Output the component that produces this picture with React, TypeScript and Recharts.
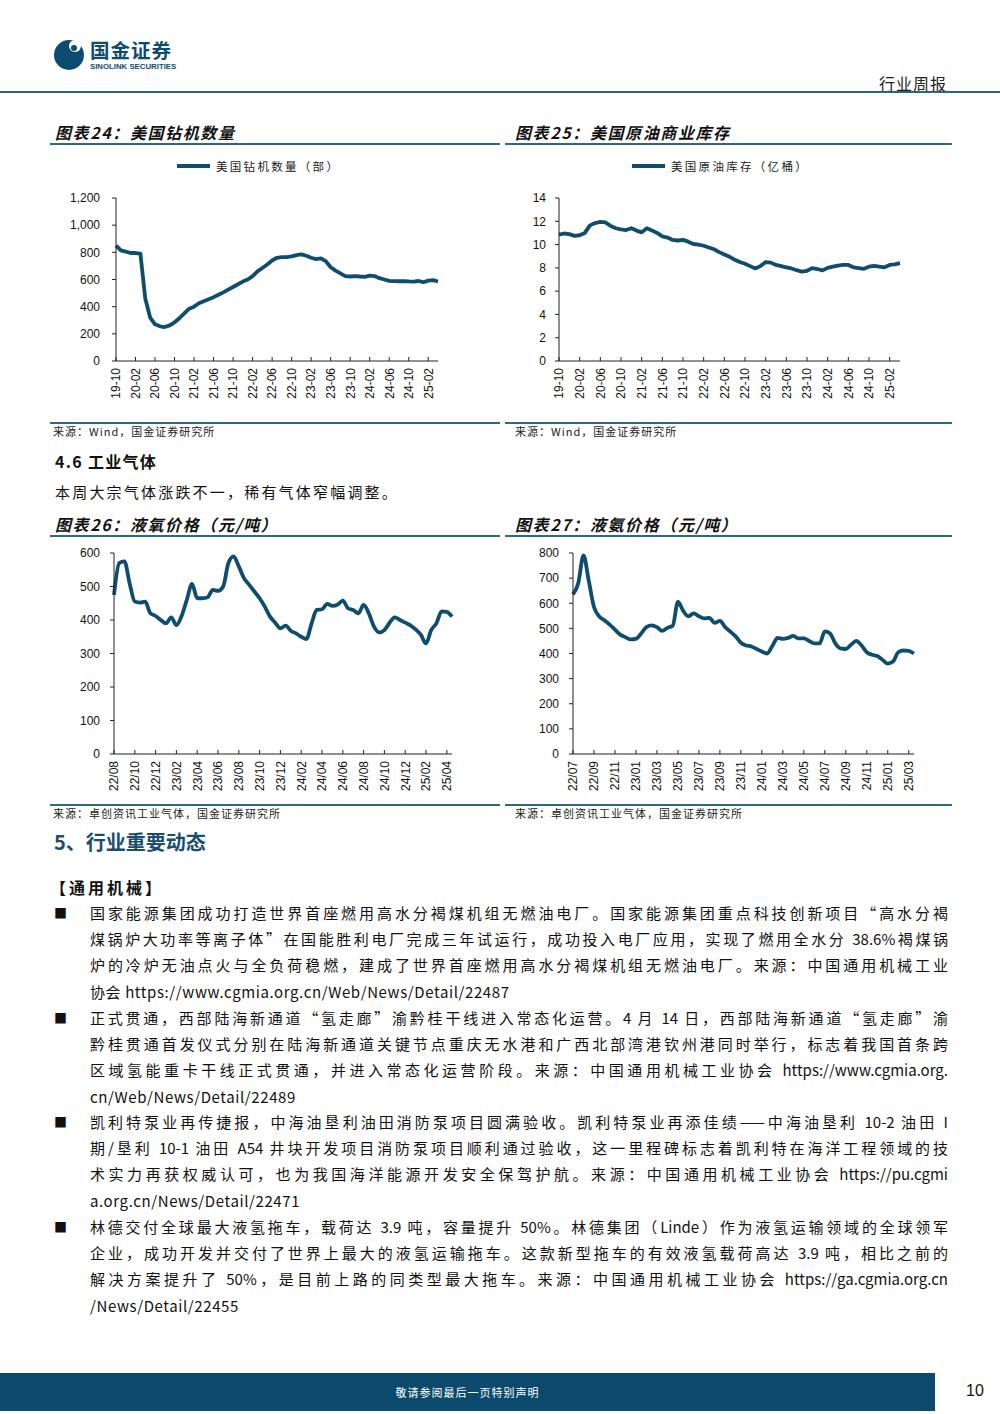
import React from 'react';
import { LineChart, Line, XAxis, YAxis } from 'recharts';

const CJK = '"Noto Sans CJK SC", "Noto Sans", sans-serif';
const LAT = '"Liberation Sans", Arial, sans-serif';
const LINE_COLOR = '#0F4D6F';
const RULE_COLOR = '#2C6A80';
const NAVY = '#0B4A6C';

function monthSeq(y0: number, m0: number, n: number, sep: string): string[] {
  const out: string[] = [];
  for (let i = 0; i < n; i++) {
    const t = m0 - 1 + i;
    const y = y0 + Math.floor(t / 12);
    const m = (t % 12) + 1;
    out.push(String(y % 100).padStart(2, '0') + sep + String(m).padStart(2, '0'));
  }
  return out;
}
const halfMonths = (months: string[]) => months.flatMap((m) => [m + '上', m + '下']);

// 图表24 美国钻机数量（部），月度 19-10 ~ 25-04
const rigMonths = monthSeq(2019, 10, 67, '-');
const rigCount = [
  850, 815, 805, 795, 795, 790,
  460, 320, 270, 255, 250, 262,
  285, 315, 350, 385, 400, 425,
  440, 455, 470, 488, 505, 525,
  545, 565, 585, 600, 625, 660,
  685, 710, 740, 760, 765, 765,
  770, 780, 785, 775, 760, 750,
  755, 735, 690, 665, 645, 625,
  622, 625, 622, 620, 628, 625,
  610, 600, 590, 588, 587, 588,
  586, 585, 589, 580, 592, 595,
  585,
];
const rigTicks = [0, 200, 400, 600, 800, 1000, 1200];

// 图表25 美国原油库存（亿桶），月度 19-10 ~ 25-04
const crudeMonths = monthSeq(2019, 10, 67, '-');
const crudeStock = [
  10.85, 10.95, 10.9, 10.75, 10.8, 11.0,
  11.65, 11.85, 11.95, 11.9, 11.6, 11.4,
  11.3, 11.25, 11.4, 11.2, 11.05, 11.4,
  11.2, 11.0, 10.7, 10.6, 10.4, 10.35,
  10.4, 10.25, 10.05, 10.0, 9.9, 9.75,
  9.6, 9.35, 9.15, 8.95, 8.7, 8.5,
  8.35, 8.15, 7.95, 8.15, 8.5, 8.45,
  8.25, 8.15, 8.05, 7.95, 7.8, 7.68,
  7.75, 7.98, 7.9, 7.78, 8.0, 8.1,
  8.2, 8.25, 8.25, 8.05, 7.98, 7.92,
  8.1, 8.18, 8.1, 8.05, 8.25, 8.3,
  8.4,
];
const crudeTicks = [0, 2, 4, 6, 8, 10, 12, 14];

// 图表26 液氧价格（元/吨），半月度 22/08 ~ 25/04
const oxygenMonths = monthSeq(2022, 8, 33, '/');
const oxygenPrice = [
  475, 570, 575, 510, 455, 452,
  455, 420, 412, 400, 390, 408,
  385, 412, 460, 508, 465, 465,
  468, 490, 487, 500, 570, 590,
  560, 525, 505, 485, 465, 440,
  410, 392, 375, 383, 368, 360,
  350, 343, 390, 430, 432, 448,
  442, 446, 458, 435, 430, 420,
  445, 420, 380, 363, 370, 392,
  408, 400, 392, 384, 372, 356,
  330, 370, 390, 426, 424, 410,
];
const oxygenTicks = [0, 100, 200, 300, 400, 500, 600];

// 图表27 液氨价格（元/吨），半月度 22/07 ~ 25/03
const ammoniaMonths = monthSeq(2022, 7, 33, '/');
const ammoniaPrice = [
  635, 680, 790, 690, 585, 548,
  532, 515, 495, 475, 465, 456,
  458, 480, 505, 512, 505, 490,
  502, 510, 605, 570, 548, 560,
  548, 540, 542, 522, 530, 505,
  487, 468, 443, 432, 428, 418,
  408, 400, 430, 462, 458, 462,
  470, 460, 460, 450, 440, 440,
  488, 480, 440, 420, 418, 435,
  450, 432, 405, 395, 390, 375,
  360, 368, 405, 412, 410, 400,
];
const ammoniaTicks = [0, 100, 200, 300, 400, 500, 600, 700, 800];

const toRows = (cats: string[], vals: number[]) => cats.map((c, i) => ({ c, v: vals[i] }));
const rigData = toRows(rigMonths, rigCount);
const crudeData = toRows(crudeMonths, crudeStock);
const oxygenData = toRows(halfMonths(oxygenMonths), oxygenPrice);
const ammoniaData = toRows(halfMonths(ammoniaMonths), ammoniaPrice);

const paragraphs: string[][] = [
  [
    '国家能源集团成功打造世界首座燃用高水分褐煤机组无燃油电厂。国家能源集团重点科技创新项目“高水分褐',
    '煤锅炉大功率等离子体”在国能胜利电厂完成三年试运行，成功投入电厂应用，实现了燃用全水分 38.6%褐煤锅',
    '炉的冷炉无油点火与全负荷稳燃，建成了世界首座燃用高水分褐煤机组无燃油电厂。来源：中国通用机械工业',
    '协会 https://www.cgmia.org.cn/Web/News/Detail/22487',
  ],
  [
    '正式贯通，西部陆海新通道“氢走廊”渝黔桂干线进入常态化运营。4 月 14 日，西部陆海新通道“氢走廊”渝',
    '黔桂贯通首发仪式分别在陆海新通道关键节点重庆无水港和广西北部湾港钦州港同时举行，标志着我国首条跨',
    '区域氢能重卡干线正式贯通，并进入常态化运营阶段。来源：中国通用机械工业协会 https://www.cgmia.org.',
    'cn/Web/News/Detail/22489',
  ],
  [
    '凯利特泵业再传捷报，中海油垦利油田消防泵项目圆满验收。凯利特泵业再添佳绩——中海油垦利 10-2 油田 I',
    '期/垦利 10-1 油田 A54 井块开发项目消防泵项目顺利通过验收，这一里程碑标志着凯利特在海洋工程领域的技',
    '术实力再获权威认可，也为我国海洋能源开发安全保驾护航。来源：中国通用机械工业协会 https://pu.cgmi',
    'a.org.cn/News/Detail/22471',
  ],
  [
    '林德交付全球最大液氢拖车，载荷达 3.9 吨，容量提升 50%。林德集团（Linde）作为液氢运输领域的全球领军',
    '企业，成功开发并交付了世界上最大的液氢运输拖车。这款新型拖车的有效液氢载荷高达 3.9 吨，相比之前的',
    '解决方案提升了 50%，是目前上路的同类型最大拖车。来源：中国通用机械工业协会 https://ga.cgmia.org.cn',
    '/News/Detail/22455',
  ],
];

const RotTick = (props: any) => {
  const { x, y, payload } = props;
  const label = String(payload.value).slice(0, 5);
  return (
    <text
      x={0}
      y={0}
      transform={`translate(${x},${y + 11}) rotate(-90)`}
      textAnchor="end"
      dy="0.36em"
      fontSize={12}
      fontFamily={LAT}
      fill="#111"
    >
      {label}
    </text>
  );
};

const fmtComma = (v: number) => v.toLocaleString('en-US');

function Trend(p: {
  left: number; top: number; width: number; height: number;
  margin: { top: number; right: number; bottom: number; left: number };
  yWidth: number; data: { c: string; v: number }[]; domain: [number, number];
  ticks: number[]; yFmt?: (v: number) => string; tickMargin: number; smooth?: boolean;
}) {
  return (
    <div style={{ position: 'absolute', left: p.left, top: p.top, width: p.width, height: p.height }}>
      <LineChart width={p.width} height={p.height} data={p.data} margin={p.margin}>
        <XAxis
          dataKey="c"
          interval={3}
          tick={<RotTick />}
          tickSize={-4}
          tickMargin={0}
          height={45}
          axisLine={{ stroke: '#222' }}
          tickLine={{ stroke: '#222' }}
        />
        <YAxis
          type="number"
          width={p.yWidth}
          domain={p.domain}
          ticks={p.ticks}
          interval={0}
          tickFormatter={p.yFmt}
          tickSize={4}
          tickMargin={p.tickMargin}
          axisLine={{ stroke: '#222' }}
          tickLine={{ stroke: '#222' }}
          tick={{ fontSize: 12, fill: '#111', fontFamily: LAT }}
        />
        <Line
          dataKey="v"
          type={p.smooth ? 'monotone' : 'linear'}
          stroke={LINE_COLOR}
          strokeWidth={3.8}
          strokeLinejoin="round"
          dot={false}
          isAnimationActive={false}
        />
      </LineChart>
    </div>
  );
}

const abs = (s: React.CSSProperties): React.CSSProperties => ({ position: 'absolute', whiteSpace: 'nowrap', ...s });

function Title({ left, top, text }: { left: number; top: number; text: string }) {
  return (
    <div style={abs({ left, top, fontFamily: CJK, fontWeight: 700, fontStyle: 'italic', fontSize: 16, letterSpacing: 1.6, lineHeight: '20px', color: '#111' })}>
      {text}
    </div>
  );
}
function Rule({ left, top, width }: { left: number; top: number; width: number }) {
  return <div style={abs({ left, top, width, height: 2, background: RULE_COLOR })} />;
}
function Legend({ left, top, text }: { left: number; top: number; text: string }) {
  return (
    <>
      <div style={abs({ left, top: top - 2, width: 33, height: 4, background: LINE_COLOR })} />
      <div style={abs({ left: left + 39, top: top - 8, fontFamily: CJK, fontSize: 11.5, letterSpacing: 2.3, lineHeight: '16px', color: '#222' })}>
        {text}
      </div>
    </>
  );
}
function Source({ left, top, text }: { left: number; top: number; text: string }) {
  return (
    <div style={abs({ left, top, fontFamily: CJK, fontSize: 11, letterSpacing: 1, lineHeight: '14px', color: '#222' })}>
      {text}
    </div>
  );
}

export default function App() {
  const lineTops = [900, 926, 952, 979];
  const paraTops = [0, 105, 209, 314];
  return (
    <div style={{ position: 'absolute', left: 0, top: 0, width: 1000, height: 1414, background: '#fff', overflow: 'hidden', fontFamily: CJK }}>
      {/* header */}
      <svg style={{ position: 'absolute', left: 52, top: 36 }} width={150} height={40}>
        <circle cx={17} cy={19} r={15} fill="#0D4C70" />
        <circle cx={23} cy={10} r={6} fill="#fff" />
        <circle cx={22} cy={12} r={3} fill="#0D4C70" />
        <text x={38} y={22} fontSize={19.5} fontWeight={700} fill="#0D4C70" fontFamily={CJK} letterSpacing={1}>国金证券</text>
        <text x={38} y={33} fontSize={7.8} fontWeight={700} fill="#0D4C70" fontFamily={LAT}>SINOLINK SECURITIES</text>
      </svg>
      <div style={abs({ left: 879, top: 73, fontSize: 16, letterSpacing: 1, lineHeight: '20px', color: '#222' })}>行业周报</div>
      <div style={abs({ left: 0, top: 91, width: 1000, height: 2, background: '#2F6577' })} />

      {/* chart 24 */}
      <Title left={55} top={122} text="图表24：美国钻机数量" />
      <Rule left={50} top={143} width={450} />
      <Legend left={177} top={166} text="美国钻机数量（部）" />
      <Trend left={50} top={150} width={450} height={260} margin={{ top: 48, right: 62, bottom: 4, left: 16 }}
        yWidth={50} data={rigData} domain={[0, 1200]} ticks={rigTicks} yFmt={fmtComma} tickMargin={12} />
      <Rule left={50} top={422} width={450} />
      <Source left={53} top={424} text="来源：Wind，国金证券研究所" />

      {/* chart 25 */}
      <Title left={515} top={122} text="图表25：美国原油商业库存" />
      <Rule left={505} top={143} width={447} />
      <Legend left={632} top={166} text="美国原油库存（亿桶）" />
      <Trend left={505} top={150} width={450} height={260} margin={{ top: 48, right: 55, bottom: 4, left: 14 }}
        yWidth={40} data={crudeData} domain={[0, 14]} ticks={crudeTicks} tickMargin={9} />
      <Rule left={505} top={422} width={447} />
      <Source left={515} top={424} text="来源：Wind，国金证券研究所" />

      {/* 4.6 */}
      <div style={abs({ left: 55, top: 451, fontSize: 16, fontWeight: 700, lineHeight: '20px', color: '#111', letterSpacing: 1.3 })}>4.6 工业气体</div>
      <div style={abs({ left: 55, top: 482, fontSize: 15, letterSpacing: 2.2, lineHeight: '20px', color: '#111' })}>本周大宗气体涨跌不一，稀有气体窄幅调整。</div>

      {/* chart 26 */}
      <Title left={55} top={514} text="图表26：液氧价格（元/吨）" />
      <Rule left={50} top={535} width={450} />
      <Trend left={50} top={540} width={450} height={260} margin={{ top: 13, right: 48, bottom: 1, left: 19 }}
        yWidth={45} data={oxygenData} domain={[0, 600]} ticks={oxygenTicks} tickMargin={10} smooth />
      <Rule left={50} top={804} width={450} />
      <Source left={53} top={806} text="来源：卓创资讯工业气体，国金证券研究所" />

      {/* chart 27 */}
      <Title left={515} top={514} text="图表27：液氨价格（元/吨）" />
      <Rule left={505} top={535} width={447} />
      <Trend left={505} top={540} width={450} height={260} margin={{ top: 13, right: 41, bottom: 1, left: 23 }}
        yWidth={45} data={ammoniaData} domain={[0, 800]} ticks={ammoniaTicks} tickMargin={10} smooth />
      <Rule left={505} top={804} width={447} />
      <Source left={515} top={806} text="来源：卓创资讯工业气体，国金证券研究所" />

      {/* section 5 */}
      <div style={abs({ left: 54, top: 830, fontSize: 20, fontWeight: 700, lineHeight: '24px', color: '#1B4D6E' })}>5、行业重要动态</div>
      <div style={abs({ left: 50, top: 877, fontSize: 16, fontWeight: 700, lineHeight: '20px', color: '#111', letterSpacing: 3 })}>【通用机械】</div>

      {paragraphs.map((lines, pi) => (
        <React.Fragment key={pi}>
          <div style={abs({ left: 54, top: lineTops[0] + paraTops[pi], fontSize: 13, lineHeight: '26px', color: '#111' })}>■</div>
          {lines.map((ln, li) => {
            const last = li === lines.length - 1;
            return (
              <div
                key={li}
                style={abs({
                  left: 90,
                  top: lineTops[li] + paraTops[pi],
                  width: 858,
                  fontSize: 15,
                  lineHeight: '26px',
                  color: '#111',
                  textAlign: last ? 'left' : 'justify',
                  textAlignLast: last ? 'left' : 'justify',
                  letterSpacing: last ? 0.6 : 0,
                })}
              >
                {ln}
              </div>
            );
          })}
        </React.Fragment>
      ))}

      {/* footer */}
      <div style={abs({ left: 0, top: 1373, width: 935, height: 38, background: NAVY })} />
      <div style={abs({ left: 0, top: 1383, width: 935, textAlign: 'center', fontSize: 11, letterSpacing: 1, lineHeight: '18px', color: '#fff' })}>敬请参阅最后一页特别声明</div>
      <div style={abs({ left: 966, top: 1381, fontSize: 16, fontFamily: LAT, lineHeight: '20px', color: '#111' })}>10</div>
    </div>
  );
}
